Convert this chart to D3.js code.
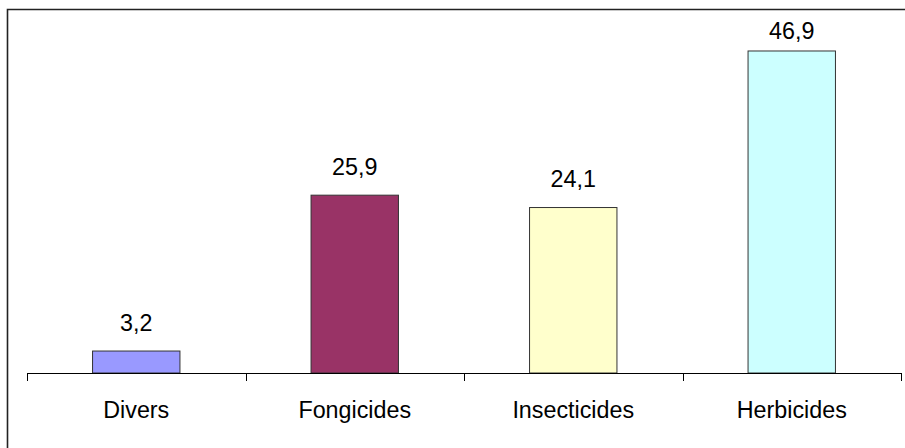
<!DOCTYPE html>
<html>
<head>
<meta charset="utf-8">
<script src="https://cdn.jsdelivr.net/npm/d3@7"></script>
<style>
  html, body { margin: 0; padding: 0; background: #fff; }
  svg { display: block; }
  text { font-family: "Liberation Sans", Arial, sans-serif; fill: #000; }
</style>
</head>
<body>
<svg id="chart" width="905" height="448"></svg>
<script>
// Share of pesticide use by product type (%)
const categories = ["Divers", "Fongicides", "Insecticides", "Herbicides"];
const values = [3.2, 25.9, 24.1, 46.9];
const valueLabels = ["3,2", "25,9", "24,1", "46,9"];
const colors = ["#9999FF", "#993366", "#FFFFCC", "#CCFFFF"];

const width = 905, height = 448;
const svg = d3.select("#chart");

svg.append("rect").attr("width", width).attr("height", height).attr("fill", "#fff");

// Chart-area frame (top and left edges fall inside the page)
svg.append("path")
  .attr("d", `M7.5,${height} L7.5,9.5 L${width},9.5`)
  .attr("fill", "none")
  .attr("stroke", "#222")
  .attr("stroke-width", 1.6);

const plot = { left: 27, right: 901, top: 29.7, bottom: 373 };

const x = d3.scaleBand()
  .domain(categories)
  .range([plot.left, plot.right])
  .paddingInner(0.6)
  .paddingOuter(0.3);

const y = d3.scaleLinear()
  .domain([0, 50])
  .range([plot.bottom, plot.top]);

// Bars
svg.append("g")
  .selectAll("rect")
  .data(categories)
  .join("rect")
  .attr("x", d => x(d))
  .attr("y", (d, i) => y(values[i]))
  .attr("width", x.bandwidth())
  .attr("height", (d, i) => y(0) - y(values[i]))
  .attr("fill", (d, i) => colors[i])
  .attr("stroke", "#333")
  .attr("stroke-width", 1);

// Value labels above the bars, kept inside the chart area
svg.append("g")
  .selectAll("text")
  .data(categories)
  .join("text")
  .attr("x", d => x(d) + x.bandwidth() / 2)
  .attr("y", (d, i) => Math.max(y(values[i]) - 20.5, 39))
  .attr("text-anchor", "middle")
  .attr("font-size", "23.3px")
  .text((d, i) => valueLabels[i]);

// Category axis with ticks between categories
const axisG = svg.append("g");
axisG.append("line")
  .attr("x1", plot.left).attr("x2", plot.right)
  .attr("y1", plot.bottom + 0.5).attr("y2", plot.bottom + 0.5)
  .attr("stroke", "#000").attr("stroke-width", 1);

const step = x.step();
const tickXs = d3.range(categories.length + 1).map(i => plot.left + i * step);
axisG.selectAll("line.tick")
  .data(tickXs)
  .join("line")
  .attr("class", "tick")
  .attr("x1", d => Math.round(d) + 0.5).attr("x2", d => Math.round(d) + 0.5)
  .attr("y1", plot.bottom).attr("y2", plot.bottom + 8)
  .attr("stroke", "#000").attr("stroke-width", 1);

axisG.selectAll("text")
  .data(categories)
  .join("text")
  .attr("x", d => x(d) + x.bandwidth() / 2)
  .attr("y", 418)
  .attr("text-anchor", "middle")
  .attr("font-size", "23.3px")
  .text(d => d);
</script>
</body>
</html>
